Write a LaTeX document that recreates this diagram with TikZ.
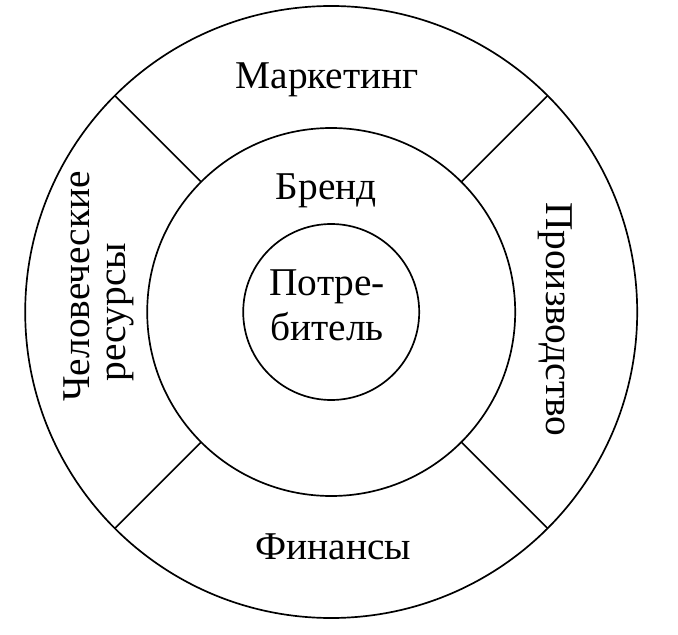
\documentclass[tikz,border=0pt]{standalone}
\usepackage{fontspec}
\setmainfont{Liberation Serif}
\begin{document}
\begin{tikzpicture}[line width=1.2pt, every node/.style={font=\fontsize{28}{32}\selectfont, inner sep=0pt}]
  \useasboundingbox (-8.28,-8.05) rectangle (8.67,7.8);
  \draw (0,0) circle (7.65);
  \draw (0,0) circle (4.6);
  \draw (0,0) circle (2.2);
  \foreach \a in {45,135,225,315}
    \draw (\a:4.6) -- (\a:7.65);
  \node[anchor=base] (mark) at (-0.1,5.58) {Маркетинг};
  \node[anchor=base] (brand) at (-0.12,2.8) {Бренд};
  \node[anchor=base] (cons1) at (-0.1,0.4) {Потре-};
  \node[anchor=base] (cons2) at (-0.1,-0.71) {битель};
  \node[anchor=base] (fin) at (0.05,-6.18) {Финансы};
  \node[anchor=base, rotate=-90] (prod) at (5.38,-0.18) {Производство};
  \node[anchor=base, rotate=90] (hr1) at (-6.05,0.64) {Человеческие};
  \node[anchor=base, rotate=90] (hr2) at (-5.15,0.0) {ресурсы};
\end{tikzpicture}
\end{document}
